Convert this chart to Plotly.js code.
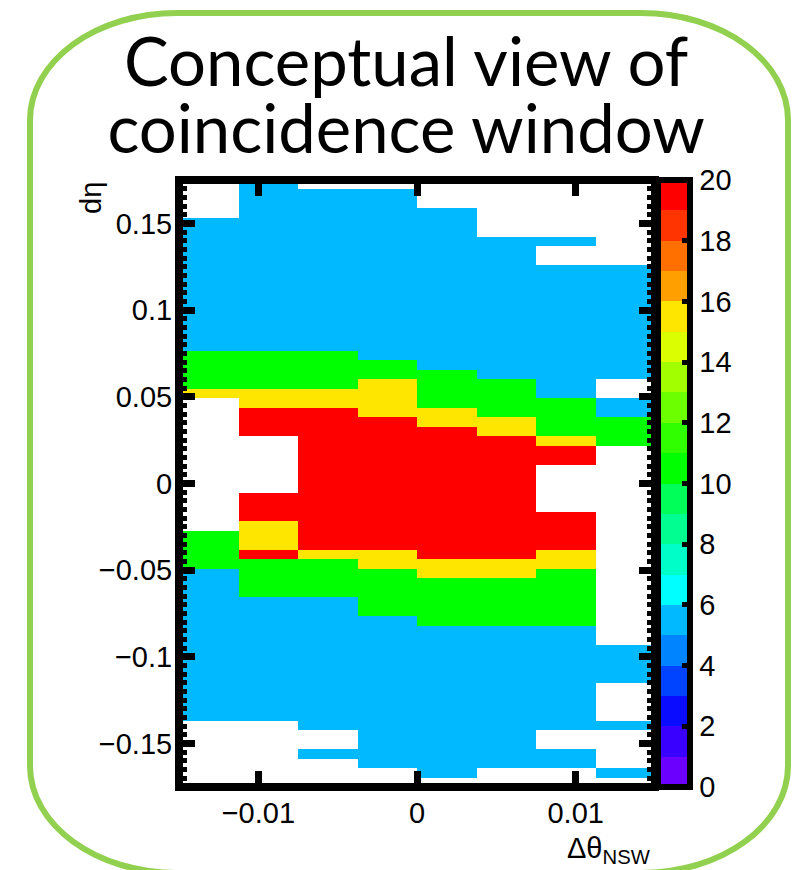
<!DOCTYPE html>
<html>
<head>
<meta charset="utf-8">
<script src="https://cdn.plot.ly/plotly-3.0.1.min.js"></script>
<style>
  html, body { margin: 0; padding: 0; background: #ffffff; }
  #wrap { position: relative; width: 809px; height: 870px; overflow: hidden; }
  #chart { position: absolute; left: 0; top: 0; width: 809px; height: 870px; }
  #frame {
    position: absolute; left: 27px; top: 10px; width: 764px; height: 866px;
    box-sizing: border-box; border: 6px solid #92d050;
    border-radius: 150px / 110px; pointer-events: none; z-index: 5;
  }
</style>
</head>
<body>
<div id="wrap">
  <div id="chart"></div>
  <div id="frame"></div>
</div>
<script>
// ---- Data -----------------------------------------------------------------
// 8 bins in Δθ_NSW from -0.015 to 0.015; 64 bins in dη from -0.175 to 0.175.
// Each column lists bin contents from the top row (dη = +0.175) downwards.
// null = empty bin.
const dthetaFirstCenter = -0.013125;
const dthetaBinWidth = 0.00375;
const detaFirstCenter = -0.172265625;
const detaBinWidth = 0.00546875;

const colM013 = [
  null,null,null,null,5.5,5.5,5.5,5.5,
  5.5,5.5,5.5,5.5,5.5,5.5,5.5,5.5,
  5.5,5.5,10.5,10.5,10.5,10.5,15.5,null,
  null,null,null,null,null,null,null,null,
  null,null,null,null,null,10.5,10.5,10.5,
  10.5,5.5,5.5,5.5,5.5,5.5,5.5,5.5,
  5.5,5.5,5.5,5.5,5.5,5.5,5.5,5.5,
  5.5,null,null,null,null,null,null,null
];
const colM009 = [
  5.5,5.5,5.5,5.5,5.5,5.5,5.5,5.5,
  5.5,5.5,5.5,5.5,5.5,5.5,5.5,5.5,
  5.5,5.5,10.5,10.5,10.5,10.5,15.5,15.5,
  19.5,19.5,19.5,null,null,null,null,null,
  null,19.5,19.5,19.5,15.5,15.5,15.5,19.5,
  10.5,10.5,10.5,10.5,5.5,5.5,5.5,5.5,
  5.5,5.5,5.5,5.5,5.5,5.5,5.5,5.5,
  5.5,null,null,null,null,null,null,null
];
const colM006 = [
  null,5.5,5.5,5.5,5.5,5.5,5.5,5.5,
  5.5,5.5,5.5,5.5,5.5,5.5,5.5,5.5,
  5.5,5.5,10.5,10.5,10.5,10.5,15.5,15.5,
  19.5,19.5,19.5,19.5,19.5,19.5,19.5,19.5,
  19.5,19.5,19.5,19.5,19.5,19.5,19.5,15.5,
  10.5,10.5,10.5,10.5,5.5,5.5,5.5,5.5,
  5.5,5.5,5.5,5.5,5.5,5.5,5.5,5.5,
  5.5,5.5,null,null,5.5,null,null,null
];
const colM002 = [
  null,5.5,5.5,5.5,5.5,5.5,5.5,5.5,
  5.5,5.5,5.5,5.5,5.5,5.5,5.5,5.5,
  5.5,5.5,5.5,10.5,10.5,15.5,15.5,15.5,
  15.5,19.5,19.5,19.5,19.5,19.5,19.5,19.5,
  19.5,19.5,19.5,19.5,19.5,19.5,19.5,15.5,
  15.5,10.5,10.5,10.5,10.5,10.5,5.5,5.5,
  5.5,5.5,5.5,5.5,5.5,5.5,5.5,5.5,
  5.5,5.5,5.5,5.5,5.5,5.5,null,null
];
const colP002 = [
  null,null,null,5.5,5.5,5.5,5.5,5.5,
  5.5,5.5,5.5,5.5,5.5,5.5,5.5,5.5,
  5.5,5.5,5.5,5.5,10.5,10.5,10.5,10.5,
  15.5,15.5,19.5,19.5,19.5,19.5,19.5,19.5,
  19.5,19.5,19.5,19.5,19.5,19.5,19.5,19.5,
  15.5,15.5,10.5,10.5,10.5,10.5,10.5,5.5,
  5.5,5.5,5.5,5.5,5.5,5.5,5.5,5.5,
  5.5,5.5,5.5,5.5,5.5,5.5,5.5,null
];
const colP006 = [
  null,null,null,null,null,null,5.5,5.5,
  5.5,5.5,5.5,5.5,5.5,5.5,5.5,5.5,
  5.5,5.5,5.5,5.5,5.5,10.5,10.5,10.5,
  10.5,15.5,15.5,19.5,19.5,19.5,19.5,19.5,
  19.5,19.5,19.5,19.5,19.5,19.5,19.5,19.5,
  15.5,15.5,10.5,10.5,10.5,10.5,10.5,5.5,
  5.5,5.5,5.5,5.5,5.5,5.5,5.5,5.5,
  5.5,5.5,5.5,5.5,5.5,5.5,null,null
];
const colP009 = [
  null,null,null,null,null,null,5.5,null,
  null,5.5,5.5,5.5,5.5,5.5,5.5,5.5,
  5.5,5.5,5.5,5.5,5.5,5.5,5.5,10.5,
  10.5,10.5,10.5,15.5,19.5,19.5,null,null,
  null,null,null,19.5,19.5,19.5,19.5,15.5,
  15.5,10.5,10.5,10.5,10.5,10.5,10.5,5.5,
  5.5,5.5,5.5,5.5,5.5,5.5,5.5,5.5,
  5.5,5.5,null,null,5.5,5.5,null,null
];
const colP013 = [
  null,null,null,null,null,null,null,null,
  null,5.5,5.5,5.5,5.5,5.5,5.5,5.5,
  5.5,5.5,5.5,5.5,5.5,null,null,5.5,
  5.5,10.5,10.5,10.5,null,null,null,null,
  null,null,null,null,null,null,null,null,
  null,null,null,null,null,null,null,null,
  null,5.5,5.5,5.5,5.5,null,null,null,
  null,5.5,null,null,null,null,5.5,null
];

// 20-level palette, one colour per unit from 0 to 20
const paletteColors = [
  '#6b00ff','#3a00ff','#0a0cff','#0044ff','#0084ff',
  '#00b9ff','#00ffff','#00ffc8','#00ff90','#00ff58',
  '#00ff00','#30ff00','#6cff00','#a2ff00','#dcff00',
  '#ffe600','#ffa000','#ff7000','#ff3400','#ff0000'
];
const colorbarTicks = [0,2,4,6,8,10,12,14,16,18,20];
const xTickVals = [-0.01, 0, 0.01];
const titleLines = ['Conceptual view of', 'coincidence window'];

// ---- Build ----------------------------------------------------------------
const columns = [colM013, colM009, colM006, colM002, colP002, colP006, colP009, colP013];
const nRows = columns[0].length;
const zTopDown = [];
for (let r = 0; r < nRows; r++) zTopDown.push(columns.map(c => c[r]));
const z = zTopDown.slice().reverse();   // row 0 = lowest dη

const n = paletteColors.length;
const colorscale = [];
paletteColors.forEach((c, i) => { colorscale.push([i / n, c]); colorscale.push([(i + 1) / n, c]); });

const FONT = 'Liberation Sans, Arial, Helvetica, sans-serif';
const TITLE_FONT = 'Lato, Open Sans, sans-serif';

const trace = {
  type: 'heatmap',
  z: z,
  x0: dthetaFirstCenter, dx: dthetaBinWidth,
  y0: detaFirstCenter, dy: detaBinWidth,
  zmin: 0, zmax: 20,
  colorscale: colorscale,
  zsmooth: false,
  hoverinfo: 'skip',
  colorbar: {
    thickness: 32, thicknessmode: 'pixels',
    len: 1, lenmode: 'fraction',
    x: 1.0063, xanchor: 'left', xpad: 0,
    y: 0.5, yanchor: 'middle', ypad: 0,
    outlinewidth: 6, outlinecolor: '#000000',
    tickmode: 'array', tickvals: colorbarTicks, ticktext: colorbarTicks.map(String),
    ticks: 'inside', ticklen: 11, tickwidth: 5, tickcolor: '#000000',
    tickfont: { family: FONT, size: 29, color: '#000000' }
  }
};

// Title: base font size sets the (tight) line spacing, inner spans set glyph size.
const titleText = titleLines.map(t => '<span style="font-size:67px">' + t + '</span>').join('<br>');

const layout = {
  width: 809, height: 870, autosize: false,
  margin: { l: 179, r: 154, t: 180, b: 83, pad: 0 },
  paper_bgcolor: '#ffffff', plot_bgcolor: '#ffffff',
  showlegend: false,
  title: {
    text: titleText,
    xref: 'container', yref: 'container',
    x: 0.502, xanchor: 'center',
    y: 0.9008, yanchor: 'top',
    font: { family: TITLE_FONT, size: 51, color: '#000000' }
  },
  xaxis: {
    range: [-0.015, 0.015], autorange: false,
    tickmode: 'array', tickvals: xTickVals,
    ticks: 'inside', ticklen: 16, tickwidth: 7, tickcolor: '#000000',
    showline: true, linewidth: 1, linecolor: '#000000', mirror: 'ticks',
    showgrid: false, zeroline: false,
    tickfont: { family: FONT, size: 29, color: '#000000' }
  },
  yaxis: {
    range: [-0.175, 0.175], autorange: false,
    tickmode: 'linear', tick0: 0, dtick: 0.05,
    ticks: 'inside', ticklen: 16, tickwidth: 7, tickcolor: '#000000',
    minor: { dtick: 0.005, ticks: 'inside', ticklen: 8, tickwidth: 5, tickcolor: '#000000', showgrid: false },
    showline: true, linewidth: 1, linecolor: '#000000', mirror: 'ticks',
    showgrid: false, zeroline: false,
    tickfont: { family: FONT, size: 29, color: '#000000' }
  },
  shapes: [
    { type: 'rect', xref: 'paper', yref: 'paper', x0: 0, x1: 1, y0: 0, y1: 1,
      line: { color: '#000000', width: 8 }, layer: 'above' }
  ],
  annotations: [
    { text: 'dη', xref: 'paper', yref: 'paper', x: -0.185, y: 1.0,
      xanchor: 'center', yanchor: 'top', textangle: -90, showarrow: false,
      font: { family: FONT, size: 29, color: '#000000' } },
    { text: 'Δθ<sub>NSW</sub>', xref: 'paper', yref: 'paper', x: 0.995, y: -0.0708,
      xanchor: 'right', yanchor: 'top', showarrow: false,
      font: { family: FONT, size: 29, color: '#000000' } }
  ]
};

Plotly.newPlot('chart', [trace], layout, { displayModeBar: false, staticPlot: true });
</script>
</body>
</html>
